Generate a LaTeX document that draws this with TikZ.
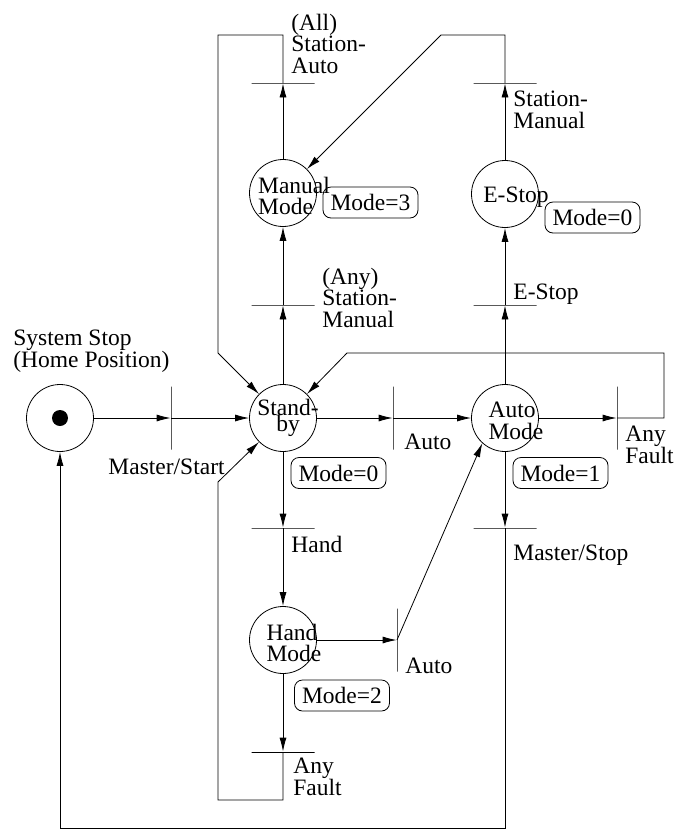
\documentclass[tikz,border=0pt]{standalone}
\usepackage{fontspec}
\setmainfont{Liberation Serif}
\usetikzlibrary{arrows.meta,positioning,calc}
\tikzset{
place/.style = {draw, circle, minimum size=67pt, inner sep=0pt},
ptext/.style = {align=left, inner sep=0pt, xshift=11pt, yshift=-3pt},
hbar/.style = {draw, rectangle, minimum width=63pt, minimum height=0pt, inner sep=0pt},
vbar/.style = {draw, rectangle, minimum width=0pt, minimum height=63pt, inner sep=0pt},
modebox/.style = {draw, rectangle, rounded corners=8pt, minimum width=95pt, minimum height=31pt, inner sep=0pt},
tlabel/.style = {anchor=base west, align=left, inner sep=0pt},
}

\begin{document}
\begin{tikzpicture}[x=1pt, y=-1pt, >={Latex[length=14pt,width=7pt]}, line width=0.8pt,
    font=\fontsize{23.5}{21.5}\selectfont]
    \useasboundingbox (0,0) rectangle (683,831);

    % places
    \node [place] (home) at (60,418) {};
    \fill (home.center) circle (8pt);
    \node [place, label={[ptext, align=center, xshift=-6pt, yshift=3pt]center:Stand-\\[-6pt]by}] (standby) at (283,418) {};
    \node [place, label={[ptext]center:Manual\\Mode}] (manual) at (283,193) {};
    \node [place, label={[ptext]center:E-Stop}] (estop) at (505,194) {};
    \node [place, label={[ptext]center:Auto\\Mode}] (auto) at (505,418) {};
    \node [place, label={[ptext]center:Hand\\Mode}] (hand) at (283,640) {};

    % transitions
    \node [vbar] (tstart) at (171,418) {};
    \node [hbar] (tanyman) at (283,305) {};
    \node [hbar] (tallauto) at (283,83) {};
    \node [hbar] (tstman) at (505,83) {};
    \node [hbar] (testop) at (505,305) {};
    \node [vbar] (tauto) at (393,418) {};
    \node [vbar] (tfault) at (617,418) {};
    \node [hbar] (thand) at (283,528) {};
    \node [vbar] (thauto) at (397,640) {};
    \node [hbar] (thfault) at (283,752) {};
    \node [hbar] (tstop) at (505,528) {};

    % mode values
    \node [modebox] (mmanual) at (370.5,202.5) {Mode=3};
    \node [modebox] (mestop) at (592.5,217.5) {Mode=0};
    \node [modebox] (mstandby) at (338.5,473) {Mode=0};
    \node [modebox] (mauto) at (560.5,473) {Mode=1};
    \node [modebox] (mhand) at (342,695.5) {Mode=2};

    % transition labels (anchored on the last line)
    \node [tlabel] (lhome) at (13,367) {System Stop\\(Home Position)};
    \node [tlabel, anchor=base east] (lstart) at (225,474) {Master/Start};
    \node [tlabel] (lanyman) at (322,327) {(Any)\\Station-\\Manual};
    \node [tlabel] (lallauto) at (291,73) {(All)\\Station-\\Auto};
    \node [tlabel] (lstman) at (513,128) {Station-\\Manual};
    \node [tlabel] (lestop) at (513,299) {E-Stop};
    \node [tlabel] (lauto) at (404,449) {Auto};
    \node [tlabel] (lfault) at (625,463) {Any\\Fault};
    \node [tlabel] (lstop) at (513,560) {Master/Stop};
    \node [tlabel] (lhand) at (291,552) {Hand};
    \node [tlabel] (lhauto) at (405,673) {Auto};
    \node [tlabel] (lhfault) at (293,795) {Any\\Fault};

    % arcs
    \draw [->] (home) -- (tstart);
    \draw [->] (tstart) -- (standby);
    \draw [->] (standby) -- (tanyman);
    \draw [->] (tanyman) -- (manual);
    \draw [->] (manual) -- (tallauto);
    \draw [->] (tallauto.center) -- (283,35) -- (218,35) -- (218,353) -- (standby.135);
    \draw [->] (standby) -- (tauto);
    \draw [->] (tauto) -- (auto);
    \draw [->] (auto) -- (testop);
    \draw [->] (testop) -- (estop);
    \draw [->] (estop) -- (tstman);
    \draw [->] (tstman.center) -- (505,35) -- (441,35) -- (manual.45);
    \draw [->] (auto) -- (tfault);
    \draw [->] (tfault.center) -- (664,418) -- (664,353) -- (347,353) -- (standby.45);
    \draw [->] (auto) -- (tstop);
    \draw [->] (tstop.center) -- (505,828) -- (60,828) -- (home);
    \draw [->] (standby) -- (thand);
    \draw [->] (thand) -- (hand);
    \draw [->] (hand) -- (thauto);
    \draw [->] (thauto.center) -- (auto.228);
    \draw [->] (hand) -- (thfault);
    \draw [->] (thfault.center) -- (283,800) -- (218,800) -- (218,482) -- (standby.225);
\end{tikzpicture}
\end{document}
